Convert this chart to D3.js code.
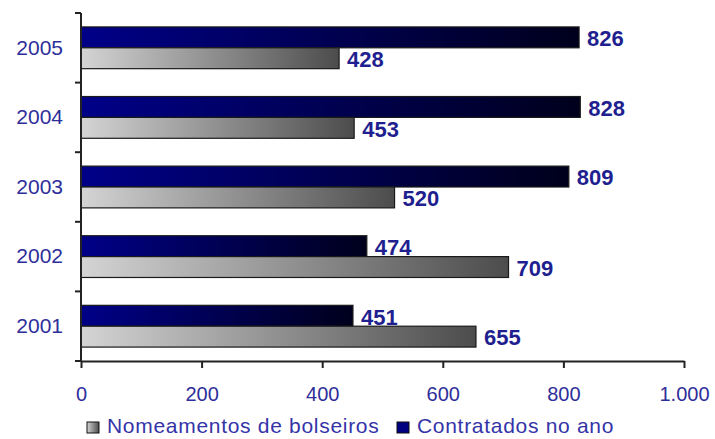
<!DOCTYPE html>
<html>
<head>
<meta charset="utf-8">
<script src="https://cdn.jsdelivr.net/npm/d3@7"></script>
<style>
  html, body { margin: 0; padding: 0; background: #fff; }
  svg { display: block; }
  text { font-family: "Liberation Sans", Arial, sans-serif; }
</style>
</head>
<body>
<svg id="chart" width="715" height="439"></svg>
<script>
// ---- data ----
const years = ["2001", "2002", "2003", "2004", "2005"];
const nomeamentos = [655, 709, 520, 453, 428];   // Nomeamentos de bolseiros
const contratados = [451, 474, 809, 828, 826];   // Contratados no ano
const seriesNames = ["Contratados no ano", "Nomeamentos de bolseiros"];
const xTicks = [0, 200, 400, 600, 800, 1000];
const xTickLabels = ["0", "200", "400", "600", "800", "1.000"];

// ---- layout ----
const svg = d3.select("#chart");
const plot = { left: 81, right: 684, top: 13, bottom: 361 };

const x = d3.scaleLinear().domain([0, 1000]).range([plot.left, plot.right]);
const y = d3.scaleBand().domain(years.slice().reverse())
  .range([plot.top, plot.bottom]).paddingInner(0.4).paddingOuter(0.2);
const sub = d3.scaleBand().domain(seriesNames).range([0, y.bandwidth()]);

// gradients
const defs = svg.append("defs");
const gDark = defs.append("linearGradient").attr("id", "gDark")
  .attr("x1", "0").attr("x2", "1").attr("y1", "0").attr("y2", "0");
gDark.append("stop").attr("offset", "0").attr("stop-color", "#000088");
gDark.append("stop").attr("offset", "1").attr("stop-color", "#00001c");
const gGray = defs.append("linearGradient").attr("id", "gGray")
  .attr("x1", "0").attr("x2", "1").attr("y1", "0").attr("y2", "0");
gGray.append("stop").attr("offset", "0").attr("stop-color", "#d4d4d4");
gGray.append("stop").attr("offset", "1").attr("stop-color", "#4c4c4c");

const series = [
  { name: seriesNames[0], values: contratados, fill: "url(#gDark)" },
  { name: seriesNames[1], values: nomeamentos, fill: "url(#gGray)" }
];

const labelColor = "#1f1f8f";
const axisTextColor = "#2e2e9a";

// bars
series.forEach(s => {
  const g = svg.append("g");
  g.selectAll("rect").data(years).join("rect")
    .attr("x", x(0))
    .attr("y", (d) => y(d) + sub(s.name))
    .attr("width", (d, i) => x(s.values[i]) - x(0))
    .attr("height", sub.bandwidth())
    .attr("fill", s.fill)
    .attr("stroke", "#1a1a1a")
    .attr("stroke-width", 1.2);
  g.selectAll("text").data(years).join("text")
    .attr("x", (d, i) => x(s.values[i]) + 8)
    .attr("y", (d) => y(d) + sub(s.name) + sub.bandwidth() / 2 + 3)
    .attr("dominant-baseline", "middle")
    .attr("font-size", "22px")
    .attr("font-weight", "bold")
    .attr("fill", labelColor)
    .text((d, i) => s.values[i]);
});

// y axis
const yAxis = d3.axisLeft(y).tickSize(0).tickPadding(18);
const yg = svg.append("g").attr("transform", `translate(${plot.left},0)`).call(yAxis);
yg.select(".domain").remove();
yg.selectAll("text").attr("font-size", "21px").attr("fill", axisTextColor)
  .attr("font-family", "'Liberation Sans', Arial, sans-serif");
// y axis line and boundary ticks
const yEdges = [plot.top].concat(years.slice().reverse().map(d => y(d) + y.bandwidth() + y.step() * y.paddingInner() / 2));
yEdges[yEdges.length - 1] = plot.bottom;
svg.append("line").attr("x1", plot.left).attr("x2", plot.left)
  .attr("y1", plot.top).attr("y2", plot.bottom)
  .attr("stroke", "#222").attr("stroke-width", 2);
svg.selectAll(".ytick").data(yEdges).join("line").attr("class", "ytick")
  .attr("x1", plot.left - 6).attr("x2", plot.left)
  .attr("y1", d => d).attr("y2", d => d)
  .attr("stroke", "#222").attr("stroke-width", 2);

// x axis
const xAxis = d3.axisBottom(x).tickValues(xTicks)
  .tickFormat((d, i) => xTickLabels[i]).tickSizeInner(7).tickSizeOuter(0).tickPadding(19);
const xg = svg.append("g").attr("transform", `translate(0,${plot.bottom})`).call(xAxis);
xg.select(".domain").attr("stroke", "#222").attr("stroke-width", 2);
xg.selectAll(".tick line").attr("stroke", "#222").attr("stroke-width", 2);
xg.selectAll("text").attr("font-size", "20px").attr("fill", axisTextColor)
  .attr("font-family", "'Liberation Sans', Arial, sans-serif");

// legend
const legendItems = [
  { name: seriesNames[1], fill: "url(#gGray)", x: 87 },
  { name: seriesNames[0], fill: "#000080", x: 397 }
];
const lg = svg.append("g");
legendItems.forEach(it => {
  lg.append("rect").attr("x", it.x).attr("y", 422).attr("width", 12).attr("height", 11)
    .attr("fill", it.fill).attr("stroke", "#111").attr("stroke-width", 1);
  lg.append("text").attr("x", it.x + 20).attr("y", 433)
    .attr("font-size", "21px").attr("letter-spacing", "0.7px")
    .attr("fill", "#3434a8").text(it.name);
});
</script>
</body>
</html>
